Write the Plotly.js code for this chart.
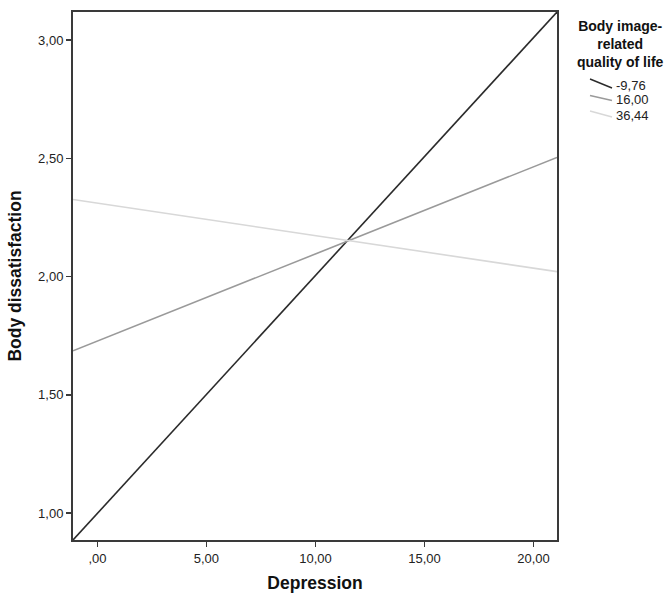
<!DOCTYPE html>
<html>
<head>
<meta charset="utf-8">
<script src="https://cdn.plot.ly/plotly-3.0.1.min.js"></script>
<style>html,body{margin:0;padding:0;background:#fff;}#chart{width:671px;height:596px;}</style>
</head>
<body>
<div id="chart"></div>
<script>
// Data
const depression = [-1.12, 21.08];
const seriesNames = ["-9,76", "16,00", "36,44"];
const lowQoL = [0.886, 3.119];
const midQoL = [1.686, 2.504];
const highQoL = [2.326, 2.021];
const seriesColors = ["#2b2b2b", "#9a9a9a", "#d8d8d8"];
const xTickVals = [0, 5, 10, 15, 20];
const xTickText = [",00", "5,00", "10,00", "15,00", "20,00"];
const yTickVals = [1.0, 1.5, 2.0, 2.5, 3.0];
const yTickText = ["1,00", "1,50", "2,00", "2,50", "3,00"];
const legendTitleLines = ["Body image-", "related", "quality of life"];

const FONT = "Arial, 'Liberation Sans', sans-serif";
const W = 671, H = 596;
const M = {l: 73, r: 114, t: 12, b: 56};
const pw = W - M.l - M.r, ph = H - M.t - M.b;
const px = v => (v - M.l) / pw;      // pixel x -> paper x
const py = v => (H - M.b - v) / ph;  // pixel y -> paper y

const ys = [lowQoL, midQoL, highQoL];
const traces = ys.map((y, i) => ({
  x: depression, y: y, type: "scatter", mode: "lines", name: seriesNames[i],
  line: {color: seriesColors[i], width: 1.6}, hoverinfo: "none", showlegend: false
}));

const axisCommon = {
  showline: true, mirror: true, linecolor: "#3a3a3a", linewidth: 2,
  ticks: "outside", ticklen: 5, tickwidth: 1.5, tickcolor: "#3a3a3a",
  showgrid: false, zeroline: false, tickfont: {family: FONT, size: 13, color: "#222"}
};

// Legend drawn as annotations + sample strokes
const annotations = [{
  xref: "paper", yref: "paper", x: px(620), y: py(44),
  xanchor: "center", yanchor: "middle", align: "center", showarrow: false,
  text: "<b>" + legendTitleLines.join("<br>") + "</b>",
  font: {family: FONT, size: 14, color: "#111"}
}];
const shapes = [];
const sampleDy = [[79, 88], [95.5, 100.5], [111, 117]];
const labelY = [85, 100, 115.5];
seriesNames.forEach((n, i) => {
  shapes.push({
    type: "line", xref: "paper", yref: "paper",
    x0: px(590), y0: py(sampleDy[i][0]), x1: px(612), y1: py(sampleDy[i][1]),
    line: {color: seriesColors[i], width: 1.4}
  });
  annotations.push({
    xref: "paper", yref: "paper", x: px(614), y: py(labelY[i]),
    xanchor: "left", yanchor: "middle", showarrow: false,
    text: n, font: {family: FONT, size: 13, color: "#222"}
  });
});

const layout = {
  width: W, height: H,
  margin: M,
  paper_bgcolor: "#fff", plot_bgcolor: "#fff",
  font: {family: FONT, color: "#111"},
  xaxis: Object.assign({}, axisCommon, {
    range: [depression[0], depression[1]], tickvals: xTickVals, ticktext: xTickText,
    title: {text: "<b>Depression</b>", font: {family: FONT, size: 17.5, color: "#111"}, standoff: 12}
  }),
  yaxis: Object.assign({}, axisCommon, {
    range: [0.886, 3.119], tickvals: yTickVals, ticktext: yTickText,
    title: {text: "<b>Body dissatisfaction</b>", font: {family: FONT, size: 17.5, color: "#111"}, standoff: 12}
  }),
  showlegend: false,
  annotations: annotations,
  shapes: shapes
};

Plotly.newPlot("chart", traces, layout, {displayModeBar: false, staticPlot: true});
</script>
</body>
</html>
